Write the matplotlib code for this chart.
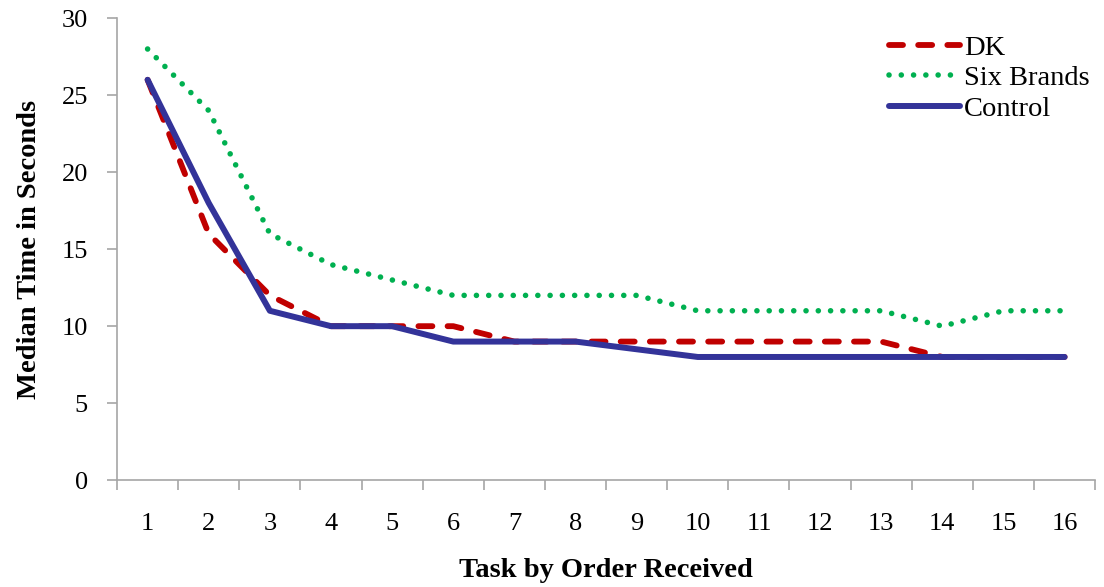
import numpy as np
import matplotlib
matplotlib.use("Agg")
import matplotlib.pyplot as plt

# data
tasks = [str(i) for i in range(1, 17)]
dk = [26, 16, 12, 10, 10, 10, 9, 9, 9, 9, 9, 9, 9, 8, 8, 8]
six_brands = [28, 24, 16, 14, 13, 12, 12, 12, 12, 11, 11, 11, 11, 10, 11, 11]
control = [26, 18, 11, 10, 10, 9, 9, 9, 8.5, 8, 8, 8, 8, 8, 8, 8]

plt.rcParams['font.family'] = ['Liberation Serif', 'DejaVu Serif']

fig = plt.figure(figsize=(11.04, 5.87), dpi=100)
ax = fig.add_axes([0.106, 0.182, 0.886, 0.787])

x = np.arange(len(tasks))
ax.plot(x, dk, color='#C00000', lw=4.2, ls=(0, (2.4, 2.6)),
        solid_capstyle='round', dash_capstyle='round', label='DK')
ax.plot(x, six_brands, color='#00B050', lw=4.0, ls=(0, (0.01, 2.2)),
        dash_capstyle='round', label='Six Brands')
ax.plot(x, control, color='#333399', lw=4.3, solid_capstyle='round',
        label='Control')

ax.set_xlim(-0.5, len(tasks) - 0.5)
ax.set_ylim(0, 30)
ax.set_yticks(range(0, 31, 5))
ax.set_xticks(x)
ax.set_xticklabels(tasks)
ax.set_xticks(np.arange(-0.5, len(tasks)), minor=True)

for s in ['top', 'right']:
    ax.spines[s].set_visible(False)
for s in ['left', 'bottom']:
    ax.spines[s].set_color('#A6A6A6')
    ax.spines[s].set_linewidth(1.2)

ax.tick_params(axis='x', which='major', length=0, pad=24, labelsize=19)
ax.tick_params(axis='x', which='minor', length=7, color='#A6A6A6', width=1.2)
ax.tick_params(axis='y', length=7, color='#A6A6A6', width=1.2, labelsize=19, pad=14)

ax.set_xlabel('Task by Order Received', fontsize=20.5, fontweight='bold', labelpad=16)
ax.set_ylabel('Median Time in Seconds', fontsize=20.5, fontweight='bold', labelpad=14)

leg = ax.legend(loc='upper right', bbox_to_anchor=(1.012, 1.0), frameon=False,
                fontsize=20.5, handlelength=2.5, handletextpad=0.15,
                labelspacing=0.15, borderaxespad=0.2)

fig.savefig('out.png', dpi=100)
